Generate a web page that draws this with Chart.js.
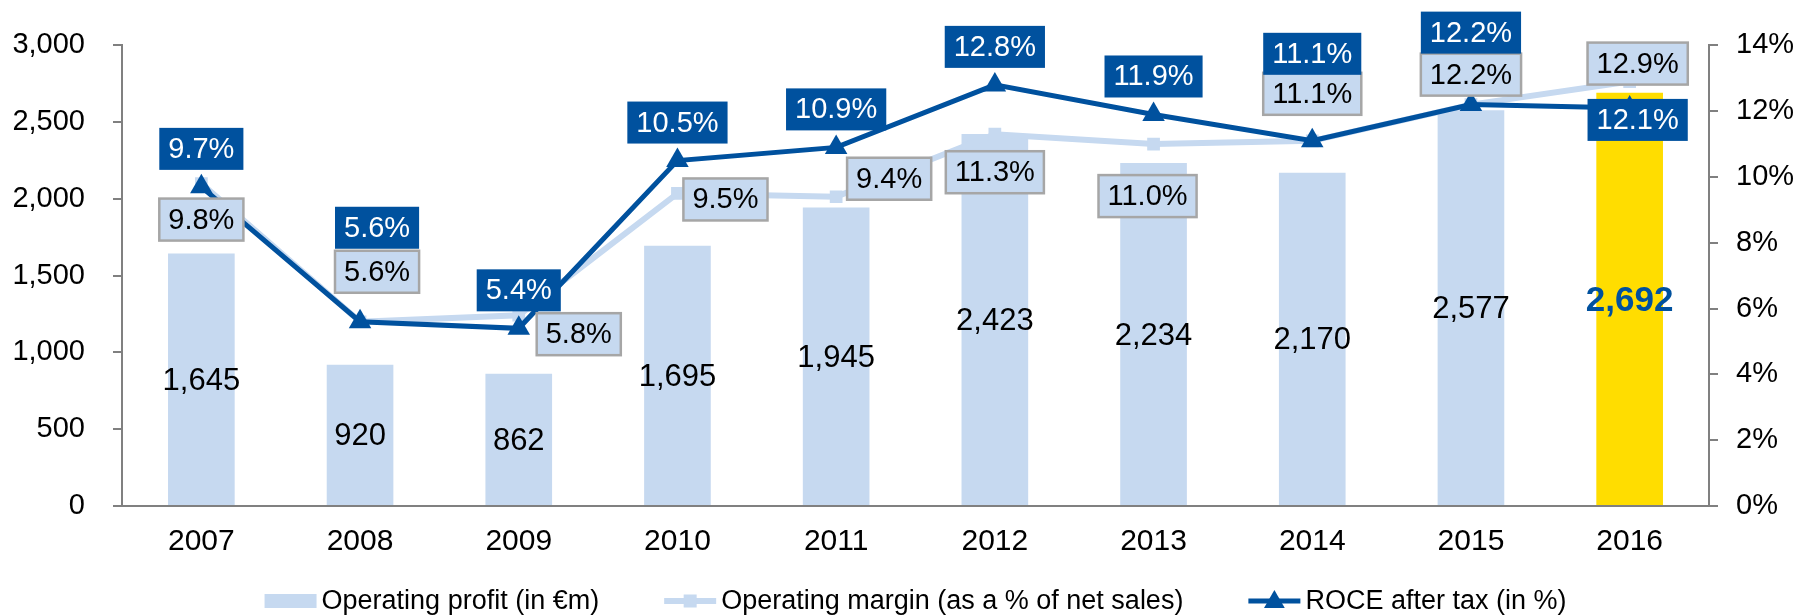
<!DOCTYPE html>
<html>
<head>
<meta charset="utf-8">
<script src="https://cdn.jsdelivr.net/npm/chart.js@4.4.1/dist/chart.umd.min.js"></script>
<style>
html,body{margin:0;padding:0;background:#fff;}
#wrap{width:1804px;height:615px;}
</style>
</head>
<body>
<div id="wrap"><canvas id="opChart" width="1804" height="615"></canvas></div>
<script>
const years=["2007","2008","2009","2010","2011","2012","2013","2014","2015","2016"];
const operatingProfit=[1645,920,862,1695,1945,2423,2234,2170,2577,2692];
const operatingMargin=[9.8,5.6,5.8,9.5,9.4,11.3,11.0,11.1,12.2,12.9];
const roceAfterTax=[9.7,5.6,5.4,10.5,10.9,12.8,11.9,11.1,12.2,12.1];
const profitTicks=[0,500,1000,1500,2000,2500,3000];
const percentTicks=[0,2,4,6,8,10,12,14];

const seriesNames=["Operating profit (in €m)","Operating margin (as a % of net sales)","ROCE after tax (in %)"];

// where each label box sits, relative to its point (px)
const marginLabelShift=[[0,36],[17,-50],[60,19],[48,6],[53,-18],[0,38],[-6,52],[0,-47],[0,-30],[8,-18]];
const roceLabelShift=[[0,-38],[17,-94],[0,-38],[0,-38],[0,-38],[0,-38],[0,-38],[0,-87],[0,-72],[8,12]];

const FONT="'Liberation Sans', Arial, sans-serif";
const lightBlue="#C6D9F0";
const darkBlue="#00519E";
const yellow="#FFDD00";
const axisGrey="#808080";

function fmt(n){
  return n.toLocaleString("en-US");
}

function drawTriangle(ctx,x,y,r){
  ctx.beginPath();
  ctx.moveTo(x,y-r);
  ctx.lineTo(x+r*0.866,y+r*0.5);
  ctx.lineTo(x-r*0.866,y+r*0.5);
  ctx.closePath();
  ctx.fill();
}

function labelBox(ctx,text,cx,cy,fill,stroke,color){
  ctx.font="29px "+FONT;
  let w=ctx.measureText(text).width+18;
  let h=42;
  ctx.fillStyle=fill;
  ctx.fillRect(cx-w/2,cy-h/2,w,h);
  if(stroke){
    ctx.strokeStyle=stroke;
    ctx.lineWidth=2.5;
    ctx.strokeRect(cx-w/2,cy-h/2,w,h);
  }
  ctx.fillStyle=color;
  ctx.textAlign="center";
  ctx.textBaseline="middle";
  ctx.fillText(text,cx,cy+1);
}

const valueLabels={
  id:"valueLabels",
  afterDatasetsDraw(chart){
    const ctx=chart.ctx;
    ctx.save();

    // bar values, in the middle of each bar
    let bars=chart.getDatasetMeta(0).data;
    bars.forEach(function(el,i){
      let last=i===bars.length-1;
      ctx.font=(last?"bold 35px ":"31px ")+FONT;
      ctx.fillStyle=last?darkBlue:"#000";
      ctx.textAlign="center";
      ctx.textBaseline="middle";
      ctx.fillText(fmt(operatingProfit[i]),el.x,(el.y+el.base)/2+2);
    });

    // margin boxes first, ROCE boxes over them
    chart.getDatasetMeta(1).data.forEach(function(el,i){
      let s=marginLabelShift[i];
      labelBox(ctx,operatingMargin[i].toFixed(1)+"%",el.x+s[0],el.y+s[1],lightBlue,"#A6A6A6","#000");
    });
    chart.getDatasetMeta(2).data.forEach(function(el,i){
      let s=roceLabelShift[i];
      labelBox(ctx,roceAfterTax[i].toFixed(1)+"%",el.x+s[0],el.y+s[1],darkBlue,null,"#fff");
    });

    ctx.restore();
  }
};

const bottomLegend={
  id:"bottomLegend",
  afterDraw(chart){
    const ctx=chart.ctx;
    const area=chart.chartArea;
    ctx.save();
    ctx.font="27px "+FONT;
    let sw=52, gapText=5, gapItem=65;
    let widths=seriesNames.map(t=>ctx.measureText(t).width);
    let total=widths.reduce((a,b)=>a+b,0)+3*(sw+gapText)+2*gapItem;
    let x=(area.left+area.right)/2-total/2;
    let y=601;

    for(let i=0;i<3;i++){
      if(i===0){
        ctx.fillStyle=lightBlue;
        ctx.fillRect(x,y-7,sw,14);
      }else if(i===1){
        ctx.strokeStyle=lightBlue;
        ctx.lineWidth=6;
        ctx.beginPath();ctx.moveTo(x,y);ctx.lineTo(x+sw,y);ctx.stroke();
        ctx.fillStyle=lightBlue;
        ctx.fillRect(x+sw/2-6.5,y-6.5,13,13);
      }else{
        ctx.strokeStyle=darkBlue;
        ctx.lineWidth=5;
        ctx.beginPath();ctx.moveTo(x,y);ctx.lineTo(x+sw,y);ctx.stroke();
        ctx.fillStyle=darkBlue;
        drawTriangle(ctx,x+sw/2,y+1,12);
      }
      x+=sw+gapText;
      ctx.fillStyle="#000";
      ctx.textAlign="left";
      ctx.textBaseline="middle";
      ctx.fillText(seriesNames[i],x,y+1);
      x+=widths[i]+gapItem;
    }
    ctx.restore();
  }
};

function initChart(){
  const ctx=document.getElementById("opChart").getContext("2d");

  chart=new Chart(ctx,{
    type:"bar",
    data:{
      labels:years,
      datasets:[
        {
          type:"bar",
          label:seriesNames[0],
          data:operatingProfit,
          yAxisID:"y",
          backgroundColor:years.map((y,i)=>i===years.length-1?yellow:lightBlue),
          barPercentage:0.42,
          categoryPercentage:1,
          order:3
        },
        {
          type:"line",
          label:seriesNames[1],
          data:operatingMargin,
          yAxisID:"y1",
          borderColor:lightBlue,
          backgroundColor:lightBlue,
          borderWidth:6,
          pointStyle:"rect",
          pointRadius:9,
          pointBorderWidth:0,
          tension:0,
          order:2
        },
        {
          type:"line",
          label:seriesNames[2],
          data:roceAfterTax,
          yAxisID:"y1",
          borderColor:darkBlue,
          backgroundColor:darkBlue,
          borderWidth:5,
          pointStyle:"triangle",
          pointRadius:13,
          pointBorderWidth:0,
          tension:0,
          order:1
        }
      ]
    },
    options:{
      responsive:false,
      animation:false,
      layout:{padding:{top:38,left:0,right:0,bottom:0}},
      plugins:{
        legend:{display:false},
        tooltip:{enabled:false}
      },
      scales:{
        x:{
          grid:{display:false,drawTicks:false},
          border:{display:true,color:axisGrey,width:2},
          ticks:{color:"#000",font:{family:FONT,size:30},padding:18},
          afterFit:function(s){s.height=109;}
        },
        y:{
          position:"left",
          min:profitTicks[0],
          max:profitTicks[profitTicks.length-1],
          grid:{display:true,drawOnChartArea:false,drawTicks:true,tickLength:9,color:axisGrey,lineWidth:2},
          border:{display:true,color:axisGrey,width:2},
          ticks:{
            stepSize:profitTicks[1]-profitTicks[0],
            color:"#000",
            font:{family:FONT,size:29},
            padding:28,
            callback:v=>fmt(v)
          },
          afterFit:function(s){s.width=122;}
        },
        y1:{
          position:"right",
          min:percentTicks[0],
          max:percentTicks[percentTicks.length-1],
          grid:{display:true,drawOnChartArea:false,drawTicks:true,tickLength:9,color:axisGrey,lineWidth:2},
          border:{display:true,color:axisGrey,width:2},
          ticks:{
            stepSize:percentTicks[1]-percentTicks[0],
            color:"#000",
            font:{family:FONT,size:29},
            padding:18,
            callback:v=>v+"%"
          },
          afterFit:function(s){s.width=95;}
        }
      }
    },
    plugins:[valueLabels,bottomLegend]
  });
}

let chart;
initChart();
</script>
</body>
</html>
